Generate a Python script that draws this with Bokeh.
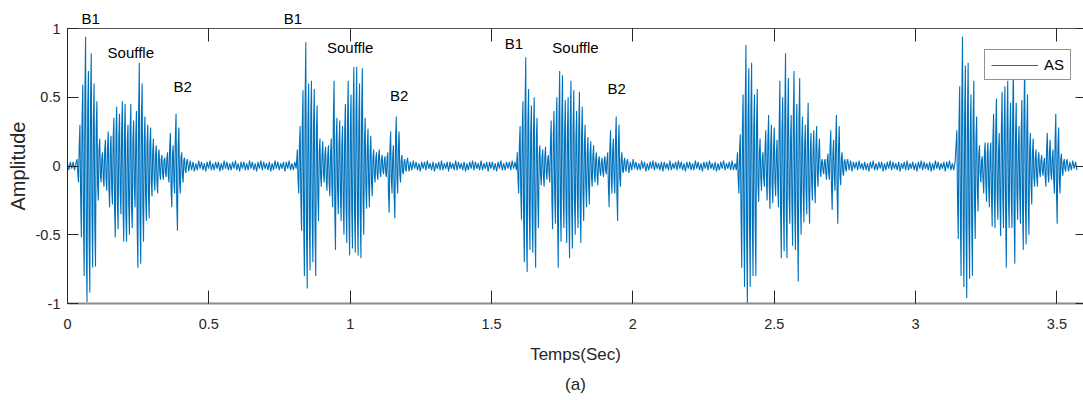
import numpy as np
from bokeh.plotting import figure
from bokeh.models import (Range1d, LinearAxis, FixedTicker, Label, Title,
                          ColumnDataSource, CustomJSTickFormatter)
from bokeh.embed import file_html
from bokeh.resources import INLINE

# ---------------- data ----------------
series_name = "AS"
x_label = "Temps(Sec)"
y_label = "Amplitude"
caption = "(a)"
x_ticks = [0, 0.5, 1, 1.5, 2, 2.5, 3, 3.5]
x_tick_labels = ["0", "0.5", "1", "1.5", "2", "2.5", "3", "3.5"]
y_ticks = [-1, -0.5, 0, 0.5, 1]
y_tick_labels = ["-1", "-0.5", "0", "0.5", "1"]
x_limits = [0, 3.594]
y_limits = [-1, 1]

# heart-sound bursts (B1 + souffle + B2), one value every burst_step seconds
burst_step = 0.0025
burst_starts = [0.034, 0.813, 1.591, 2.370, 3.146]
burst1 = [0.05, -0.06, -0.12, 0.15, 0.30, -0.22, -0.52, 0.35, 0.59, -0.41, -0.80, 0.52, 0.94, -0.60, -0.99, 0.40, 0.69, -0.55, -0.92, 0.48,
          0.82, -0.36, -0.74, 0.33, 0.60, -0.42, -0.73, 0.28, 0.47, -0.14, -0.25, 0.12, 0.20, -0.07, -0.12, 0.06, 0.10, -0.09, -0.15, 0.11,
          0.19, -0.10, -0.18, 0.14, 0.25, -0.16, -0.30, 0.13, 0.22, -0.17, -0.28, 0.20, 0.35, -0.30, -0.52, 0.25, 0.43, -0.28, -0.46, 0.22,
          0.38, -0.20, -0.35, 0.26, 0.47, -0.32, -0.55, 0.24, 0.45, -0.36, -0.55, 0.18, 0.30, -0.27, -0.50, 0.25, 0.45, -0.30, -0.45, 0.20,
          0.33, -0.16, -0.30, 0.22, 0.40, -0.45, -0.74, 0.38, 0.75, -0.40, -0.71, 0.35, 0.60, -0.30, -0.55, 0.20, 0.36, -0.24, -0.40, 0.18,
          0.30, -0.22, -0.38, 0.16, 0.28, -0.12, -0.22, 0.11, 0.20, -0.10, -0.18, 0.08, 0.15, -0.12, -0.20, 0.07, 0.12, -0.06, -0.10, 0.05,
          0.08, -0.06, -0.10, 0.04, 0.06, -0.05, -0.08, 0.06, 0.10, -0.07, -0.12, 0.14, 0.24, -0.18, -0.30, 0.09, 0.15, -0.12, -0.20, 0.22,
          0.38, -0.28, -0.47, 0.15, 0.28, -0.12, -0.20, 0.06, 0.10, -0.07, -0.12, 0.04, 0.06, -0.03, -0.05, 0.03]
burst2 = [0.12, -0.10, -0.20, 0.16, 0.29, -0.25, -0.47, 0.30, 0.55, -0.42, -0.80, 0.48, 0.90, -0.50, -0.89, 0.33, 0.60, -0.40, -0.76, 0.35,
          0.62, -0.38, -0.70, 0.30, 0.56, -0.45, -0.80, 0.25, 0.44, -0.22, -0.40, 0.10, 0.20, -0.08, -0.15, 0.09, 0.18, -0.06, -0.12, 0.08,
          0.14, -0.10, -0.18, 0.07, 0.15, -0.12, -0.22, 0.10, 0.20, -0.16, -0.30, 0.35, 0.62, -0.33, -0.61, 0.20, 0.35, -0.18, -0.35, 0.16,
          0.33, -0.22, -0.40, 0.15, 0.29, -0.28, -0.50, 0.24, 0.45, -0.30, -0.56, 0.33, 0.62, -0.36, -0.65, 0.28, 0.52, -0.32, -0.60, 0.40,
          0.72, -0.35, -0.63, 0.38, 0.72, -0.33, -0.65, 0.30, 0.60, -0.36, -0.67, 0.40, 0.71, -0.25, -0.50, 0.18, 0.35, -0.16, -0.31, 0.14,
          0.27, -0.15, -0.30, 0.11, 0.22, -0.12, -0.22, 0.06, 0.12, -0.07, -0.12, 0.05, 0.10, -0.06, -0.10, 0.07, 0.12, -0.04, -0.08, 0.05,
          0.08, -0.03, -0.06, 0.04, 0.07, -0.05, -0.08, 0.06, 0.10, -0.20, -0.34, 0.12, 0.25, -0.10, -0.20, 0.08, 0.15, -0.22, -0.38, 0.20,
          0.36, -0.10, -0.20, 0.14, 0.25, -0.06, -0.12, 0.04, 0.08, -0.04, -0.06, 0.03, 0.05, -0.02, -0.04, 0.03]
burst3 = [0.10, -0.09, -0.20, 0.15, 0.29, -0.20, -0.39, 0.25, 0.47, -0.38, -0.70, 0.42, 0.79, -0.45, -0.77, 0.30, 0.56, -0.33, -0.61, 0.24,
          0.44, -0.35, -0.63, 0.27, 0.50, -0.40, -0.74, 0.20, 0.35, -0.24, -0.45, 0.08, 0.15, -0.07, -0.14, 0.06, 0.12, -0.08, -0.15, 0.07,
          0.14, -0.05, -0.10, 0.04, 0.08, -0.06, -0.12, 0.17, 0.33, -0.25, -0.46, 0.22, 0.40, -0.21, -0.42, 0.27, 0.50, -0.40, -0.74, 0.35,
          0.69, -0.30, -0.55, 0.34, 0.66, -0.22, -0.45, 0.25, 0.48, -0.30, -0.56, 0.26, 0.50, -0.35, -0.67, 0.33, 0.62, -0.31, -0.60, 0.28,
          0.55, -0.26, -0.50, 0.21, 0.40, -0.24, -0.45, 0.28, 0.54, -0.30, -0.56, 0.22, 0.43, -0.20, -0.40, 0.16, 0.30, -0.15, -0.30, 0.10,
          0.21, -0.15, -0.28, 0.09, 0.18, -0.08, -0.15, 0.07, 0.15, -0.06, -0.12, 0.05, 0.10, -0.07, -0.14, 0.04, 0.07, -0.04, -0.07, 0.03,
          0.06, -0.04, -0.08, 0.04, 0.07, -0.03, -0.06, 0.05, 0.10, -0.16, -0.30, 0.13, 0.26, -0.10, -0.20, 0.11, 0.20, -0.10, -0.20, 0.18,
          0.36, -0.21, -0.40, 0.15, 0.30, -0.08, -0.15, 0.05, 0.10, -0.03, -0.05, 0.03, 0.06, -0.02, -0.04, 0.03]
burst4 = [0.10, -0.10, -0.20, 0.12, 0.23, -0.35, -0.74, 0.28, 0.52, -0.45, -0.88, 0.46, 0.88, -0.52, -1.00, 0.38, 0.71, -0.42, -0.88, 0.40,
          0.75, -0.40, -0.80, 0.27, 0.52, -0.38, -0.80, 0.30, 0.56, -0.14, -0.26, 0.10, 0.20, -0.09, -0.18, 0.05, 0.10, -0.08, -0.15, 0.13,
          0.26, -0.12, -0.25, 0.18, 0.37, -0.16, -0.31, 0.15, 0.30, -0.14, -0.27, 0.13, 0.28, -0.11, -0.22, 0.10, 0.19, -0.15, -0.30, 0.30,
          0.62, -0.33, -0.67, 0.25, 0.50, -0.30, -0.62, 0.40, 0.82, -0.33, -0.67, 0.32, 0.64, -0.21, -0.42, 0.18, 0.37, -0.28, -0.58, 0.35,
          0.69, -0.30, -0.61, 0.22, 0.45, -0.42, -0.84, 0.32, 0.64, -0.25, -0.50, 0.18, 0.36, -0.20, -0.41, 0.15, 0.30, -0.17, -0.35, 0.23,
          0.46, -0.21, -0.42, 0.12, 0.24, -0.12, -0.25, 0.13, 0.26, -0.13, -0.27, 0.14, 0.29, -0.07, -0.15, 0.10, 0.20, -0.04, -0.08, 0.03,
          0.05, -0.03, -0.06, 0.03, 0.05, -0.05, -0.10, 0.04, 0.09, -0.05, -0.10, 0.13, 0.26, -0.16, -0.32, 0.09, 0.19, -0.09, -0.18, 0.18,
          0.37, -0.21, -0.42, 0.14, 0.29, -0.07, -0.14, 0.05, 0.10, -0.04, -0.07, 0.03, 0.05, -0.02, -0.04, 0.03]
burst5 = [0.26, -0.27, -0.53, 0.30, 0.58, -0.40, -0.80, 0.47, 0.94, -0.44, -0.88, 0.36, 0.73, -0.48, -0.96, 0.38, 0.75, -0.41, -0.82, 0.26,
          0.52, -0.40, -0.80, 0.31, 0.62, -0.27, -0.53, 0.18, 0.36, -0.17, -0.33, 0.08, 0.15, -0.06, -0.12, 0.04, 0.07, -0.10, -0.20, 0.09,
          0.17, -0.13, -0.26, 0.09, 0.17, -0.15, -0.30, 0.09, 0.17, -0.22, -0.44, 0.19, 0.38, -0.23, -0.45, 0.25, 0.49, -0.20, -0.39, 0.12,
          0.24, -0.26, -0.51, 0.27, 0.54, -0.23, -0.45, 0.29, 0.58, -0.37, -0.74, 0.31, 0.62, -0.23, -0.45, 0.23, 0.46, -0.23, -0.45, 0.38,
          0.75, -0.36, -0.71, 0.23, 0.46, -0.20, -0.39, 0.15, 0.29, -0.21, -0.42, 0.24, 0.48, -0.31, -0.61, 0.38, 0.75, -0.29, -0.57, 0.26,
          0.52, -0.25, -0.50, 0.12, 0.24, -0.14, -0.28, 0.10, 0.20, -0.08, -0.15, 0.06, 0.12, -0.08, -0.15, 0.05, 0.10, -0.04, -0.08, 0.04,
          0.08, -0.04, -0.07, 0.03, 0.06, -0.08, -0.15, 0.12, 0.24, -0.06, -0.12, 0.10, 0.19, -0.05, -0.10, 0.06, 0.12, -0.10, -0.20, 0.19,
          0.38, -0.21, -0.42, 0.14, 0.28, -0.10, -0.20, 0.05, 0.09, -0.04, -0.07, 0.03, 0.05, -0.02, -0.04, 0.03]

# background noise between bursts, one value every noise_step seconds
noise_step = 0.005
noise_starts = [0.000, 0.424, 1.203, 1.981, 2.760, 3.536]
noise0 = [0.02, -0.03, 0.03, -0.02, 0.03, -0.03, 0.02]
noise1 = [0.05, -0.04, 0.04, -0.03, 0.03, -0.04, 0.02, -0.03, 0.04, -0.02,
          0.03, -0.03, 0.02, -0.04, 0.03, -0.02, 0.04, -0.03, 0.02, -0.03,
          0.03, -0.02, 0.03, -0.04, 0.02, -0.03, 0.04, -0.02, 0.03, -0.03,
          0.02, -0.03, 0.03, -0.02, 0.04, -0.03, 0.02, -0.04, 0.03, -0.02,
          0.03, -0.03, 0.02, -0.03, 0.04, -0.02, 0.03, -0.03, 0.02, -0.04,
          0.03, -0.02, 0.04, -0.03, 0.03, -0.02, 0.02, -0.03, 0.03, -0.04,
          0.02, -0.03, 0.04, -0.02, 0.03, -0.03, 0.02, -0.02, 0.03, -0.04,
          0.03, -0.02, 0.04, -0.03, 0.02, -0.03, 0.03, -0.02]
noise2 = [0.06, -0.04, 0.03, -0.03, 0.04, -0.02, 0.03, -0.03, 0.02, -0.04,
          0.03, -0.02, 0.03, -0.03, 0.04, -0.02, 0.02, -0.03, 0.03, -0.04,
          0.02, -0.02, 0.03, -0.03, 0.04, -0.03, 0.02, -0.02, 0.03, -0.04,
          0.03, -0.02, 0.02, -0.03, 0.04, -0.03, 0.03, -0.02, 0.02, -0.03,
          0.03, -0.04, 0.02, -0.03, 0.03, -0.02, 0.04, -0.03, 0.03, -0.02,
          0.02, -0.03, 0.04, -0.03, 0.02, -0.02, 0.03, -0.04, 0.03, -0.02,
          0.03, -0.03, 0.02, -0.04, 0.03, -0.02, 0.04, -0.03, 0.02, -0.03,
          0.03, -0.02, 0.03, -0.03, 0.04, -0.02, 0.03, -0.03]
noise3 = [0.05, -0.05, 0.03, -0.03, 0.05, -0.02, 0.03, -0.03, 0.02, -0.03,
          0.04, -0.02, 0.03, -0.04, 0.02, -0.03, 0.03, -0.02, 0.04, -0.03,
          0.03, -0.02, 0.02, -0.03, 0.03, -0.04, 0.03, -0.02, 0.02, -0.03,
          0.04, -0.03, 0.02, -0.02, 0.03, -0.03, 0.04, -0.02, 0.03, -0.03,
          0.02, -0.04, 0.03, -0.02, 0.03, -0.03, 0.02, -0.03, 0.04, -0.02,
          0.03, -0.03, 0.02, -0.04, 0.03, -0.02, 0.03, -0.03, 0.04, -0.02,
          0.02, -0.03, 0.03, -0.04, 0.02, -0.03, 0.03, -0.02, 0.04, -0.03,
          0.02, -0.02, 0.03, -0.03, 0.04, -0.03, 0.02, -0.03]
noise4 = [0.05, -0.03, 0.04, -0.04, 0.03, -0.02, 0.03, -0.03, 0.04, -0.02,
          0.02, -0.03, 0.03, -0.03, 0.02, -0.04, 0.03, -0.02, 0.04, -0.03,
          0.02, -0.03, 0.03, -0.02, 0.03, -0.04, 0.02, -0.03, 0.03, -0.02,
          0.04, -0.03, 0.03, -0.02, 0.02, -0.03, 0.03, -0.04, 0.02, -0.02,
          0.03, -0.03, 0.04, -0.03, 0.02, -0.02, 0.03, -0.03, 0.02, -0.04,
          0.03, -0.02, 0.04, -0.03, 0.03, -0.02, 0.02, -0.03, 0.03, -0.04,
          0.02, -0.03, 0.04, -0.02, 0.03, -0.03, 0.02, -0.02, 0.03, -0.04,
          0.03, -0.02, 0.04, -0.03, 0.02, -0.03, 0.03]
noise5 = [0.05, -0.04, 0.03, -0.03, 0.04, -0.02, 0.03, -0.03]

# text annotations (time, amplitude)
note_texts = ["B1", "Souffle", "B2", "B1", "Souffle", "B2", "B1", "Souffle", "B2"]
note_t = [0.082, 0.224, 0.4075, 0.797, 1.000, 1.173, 1.579, 1.797, 1.943]
note_amp = [1.092, 0.829, 0.575, 1.062, 0.863, 0.514, 0.892, 0.863, 0.563]

# ---------------- build signal ----------------
segments = []
for start, vals in zip(burst_starts, [burst1, burst2, burst3, burst4, burst5]):
    segments.append((start, burst_step, vals))
for start, vals in zip(noise_starts, [noise0, noise1, noise2, noise3, noise4, noise5]):
    segments.append((start, noise_step, vals))
segments.sort(key=lambda s: s[0])
t_all, a_all = [], []
for start, step, vals in segments:
    t_all.extend(start + step * np.arange(len(vals)))
    a_all.extend(vals)
source = ColumnDataSource(dict(t=t_all, amp=a_all))

# ---------------- figure ----------------
FONT = "Liberation Sans"
DARK = "#262626"

p = figure(width=1083, height=400, title=None,
           x_range=Range1d(*x_limits), y_range=Range1d(*y_limits),
           output_backend="svg", toolbar_location=None,
           min_border_left=67, min_border_right=0,
           min_border_top=28, min_border_bottom=97)
p.grid.visible = False
p.outline_line_color = None
p.background_fill_color = "white"
p.border_fill_color = "white"

p.line("t", "amp", source=source, line_color="#0072BD", line_width=1.1,
       legend_label=series_name)

xax = p.xaxis[0]
yax = p.yaxis[0]
xax.ticker = FixedTicker(ticks=x_ticks, minor_ticks=[])
yax.ticker = FixedTicker(ticks=y_ticks, minor_ticks=[])
xax.major_label_overrides = {k: v for k, v in zip(x_ticks, x_tick_labels)}
yax.major_label_overrides = {k: v for k, v in zip(y_ticks, y_tick_labels)}
xax.axis_label = x_label
yax.axis_label = y_label
for ax, tick_in in ((xax, 13), (yax, 11)):
    ax.major_tick_in = tick_in
    ax.major_tick_out = 0
    ax.minor_tick_line_color = None
    ax.axis_line_color = DARK
    ax.major_tick_line_color = DARK
    ax.major_label_text_font = FONT
    ax.major_label_text_font_size = "14.5px"
    ax.major_label_text_color = DARK
    ax.axis_label_text_font = FONT
    ax.axis_label_text_font_style = "normal"
    ax.axis_label_text_color = DARK
xax.major_label_standoff = 15
xax.axis_label_text_font_size = "17px"
xax.axis_label_standoff = 13
xax.axis_line_color = "#8c8c8c"
xax.axis_line_width = 2
yax.major_label_standoff = 7
yax.axis_label_text_font_size = "20px"
yax.axis_label_standoff = 4

empty = CustomJSTickFormatter(code="return ''")
top = LinearAxis(ticker=FixedTicker(ticks=x_ticks, minor_ticks=[]), formatter=empty,
                 major_tick_in=13, major_tick_out=0, major_label_standoff=0,
                 minor_tick_line_color=None, axis_line_color="#555555",
                 major_tick_line_color=DARK, major_label_text_font_size="0px")
right = LinearAxis(ticker=FixedTicker(ticks=y_ticks, minor_ticks=[]), formatter=empty,
                   major_tick_in=8, major_tick_out=0, major_label_standoff=0,
                   minor_tick_line_color=None, axis_line_color=None,
                   major_tick_line_color=DARK, major_label_text_font_size="0px")
p.add_layout(top, "above")
p.add_layout(right, "right")

# notes that sit above the frame are carried by a label-only axis
above_t = [t for t, a in zip(note_t, note_amp) if a > y_limits[1]]
above_txt = [s for s, a in zip(note_texts, note_amp) if a > y_limits[1]]
note_axis = LinearAxis(ticker=FixedTicker(ticks=above_t, minor_ticks=[]),
                       major_label_overrides={k: v for k, v in zip(above_t, above_txt)},
                       major_tick_in=0, major_tick_out=0, major_label_standoff=2,
                       axis_line_color=None, major_tick_line_color=None,
                       minor_tick_line_color=None, major_label_text_font=FONT,
                       major_label_text_font_size="15px", major_label_text_color="black")
p.add_layout(note_axis, "above")

p.add_layout(Title(text=caption, align="center", text_font=FONT,
                   text_font_size="17px", text_font_style="normal",
                   text_color=DARK, standoff=12), "below")

for txt, tx, ty in zip(note_texts, note_t, note_amp):
    if ty <= y_limits[1]:
        p.add_layout(Label(x=tx, y=ty, text=txt, text_align="center",
                           text_baseline="middle", text_font=FONT,
                           text_font_size="15px", text_color="black"))

leg = p.legend[0]
leg.location = (917, 223)
leg.padding = 6
leg.margin = 0
leg.spacing = 0
leg.glyph_width = 47
leg.glyph_height = 16
leg.label_standoff = 6
leg.label_text_font = FONT
leg.label_text_font_size = "15px"
leg.label_text_color = "black"
leg.border_line_color = DARK
leg.border_line_width = 1
leg.background_fill_color = "white"
leg.background_fill_alpha = 1

open("out.html", "w").write(file_html(p, INLINE))
